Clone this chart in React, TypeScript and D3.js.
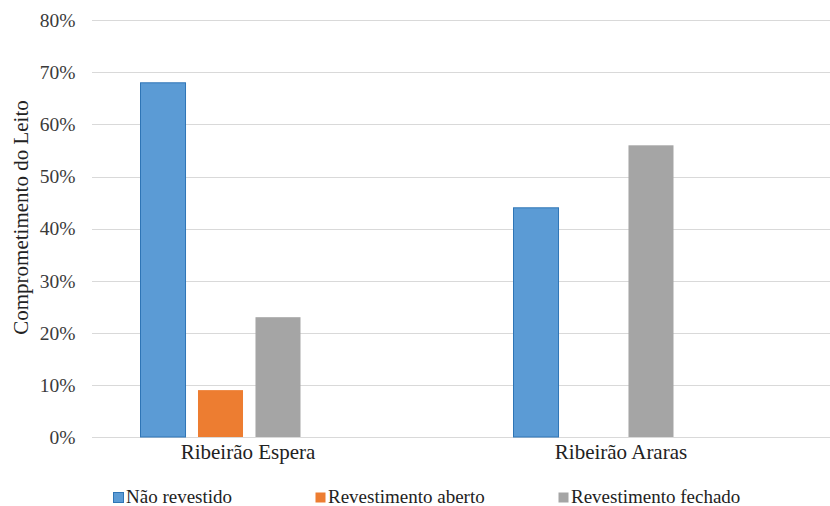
import React from "react";
import * as d3 from "d3";

// Categories, series and values (fractions)
const categories = ["Ribeirão Espera", "Ribeirão Araras"];
const seriesNames = ["Não revestido", "Revestimento aberto", "Revestimento fechado"];
const naoRevestido = [0.68, 0.44];
const revestimentoAberto = [0.09, 0];
const revestimentoFechado = [0.23, 0.56];
const yTicks = [0, 0.1, 0.2, 0.3, 0.4, 0.5, 0.6, 0.7, 0.8];

const seriesValues = [naoRevestido, revestimentoAberto, revestimentoFechado];
const fills = ["#5B9BD5", "#ED7D31", "#A5A5A5"];
const strokes = ["#2E75B6", "none", "none"];

const W = 830;
const H = 506;
const serif: React.CSSProperties = { fontFamily: '"Liberation Serif", "DejaVu Serif", serif' };

export default function App() {
  const y = d3.scaleLinear().domain([0, 0.8]).range([437, 20.3]);
  const x0 = d3.scaleBand<string>().domain(categories).range([34, 780]).padding(0);
  const groupHalf = 80;
  const fmt = d3.format(".0%");

  const gridX1 = 92;
  const gridX2 = 830;

  return (
    <div style={{ position: "fixed", left: 0, top: 0 }}>
      <svg width={W} height={H} style={{ display: "block", background: "#fff" }}>
        {/* gridlines */}
        {yTicks.map((t) => (
          <line
            key={"g" + t}
            x1={gridX1}
            x2={gridX2}
            y1={Math.round(y(t)) + 0.5}
            y2={Math.round(y(t)) + 0.5}
            stroke="#D9D9D9"
            strokeWidth={1}
          />
        ))}
        {/* tick labels */}
        {yTicks.map((t) => (
          <text
            key={"t" + t}
            x={75.5}
            y={y(t)}
            dy="0.35em"
            textAnchor="end"
            style={serif}
            fontSize={19.5}
            fill="#3A3A3A"
          >
            {fmt(t)}
          </text>
        ))}
        {/* bars */}
        {categories.map((c, ci) => {
          const center = (x0(c) as number) + x0.bandwidth() / 2;
          const x1 = d3
            .scaleBand<string>()
            .domain(seriesNames)
            .range([center - groupHalf, center + groupHalf])
            .paddingInner(0.217)
            .paddingOuter(0);
          return (
            <g key={c}>
              {seriesNames.map((s, si) => {
                const v = seriesValues[si][ci];
                if (v <= 0) return null;
                return (
                  <rect
                    key={s}
                    x={x1(s) as number}
                    y={y(v)}
                    width={x1.bandwidth()}
                    height={y(0) - y(v)}
                    fill={fills[si]}
                    stroke={strokes[si]}
                    strokeWidth={strokes[si] === "none" ? 0 : 1}
                  />
                );
              })}
              <text
                x={center + 27.5}
                y={458.5}
                textAnchor="middle"
                style={serif}
                fontSize={21}
                fill="#222"
              >
                {c}
              </text>
            </g>
          );
        })}
        {/* y-axis title */}
        <text
          transform="translate(28,217.5) rotate(-90)"
          textAnchor="middle"
          style={serif}
          fontSize={21}
          fill="#222"
        >
          Comprometimento do Leito
        </text>
        {/* legend */}
        {seriesNames.map((s, si) => {
          const lx = [113, 315, 558][si];
          return (
            <g key={"l" + s} transform={`translate(${lx},492)`}>
              <rect
                x={0.5}
                y={0.5}
                width={10}
                height={10}
                fill={fills[si]}
                stroke={strokes[si]}
                strokeWidth={strokes[si] === "none" ? 0 : 1}
              />
              <text x={13} y={11} style={serif} fontSize={19} fill="#222">
                {s}
              </text>
            </g>
          );
        })}
      </svg>
    </div>
  );
}
